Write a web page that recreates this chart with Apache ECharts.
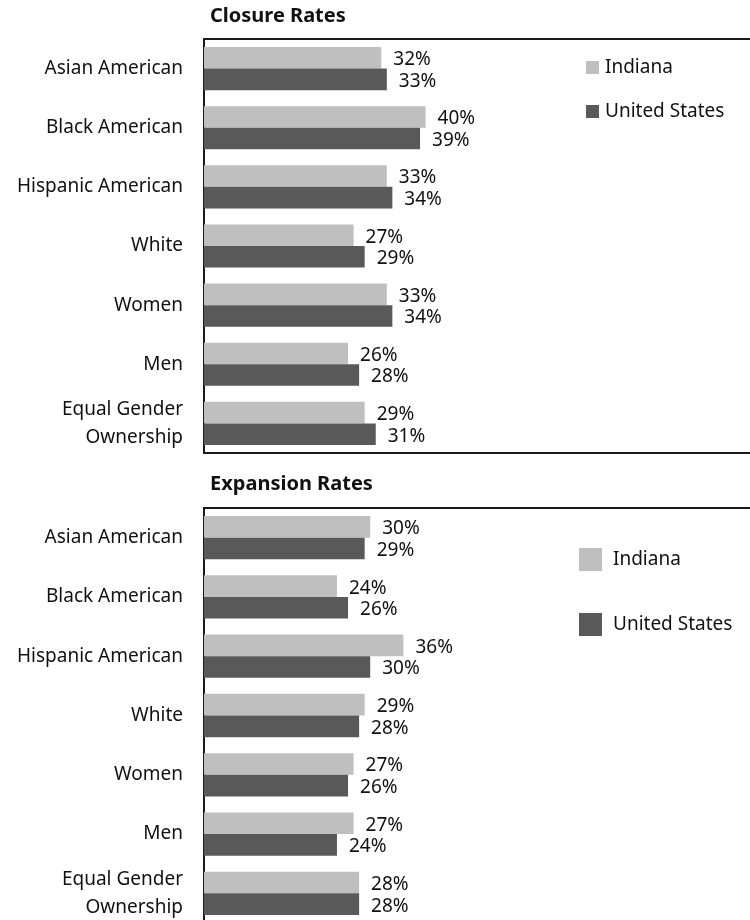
<!DOCTYPE html>
<html>
<head>
<meta charset="utf-8">
<script src="https://cdn.jsdelivr.net/npm/echarts@6/dist/echarts.min.js"></script>
<style>
  html, body { margin: 0; padding: 0; background: #fff; }
  #chart { width: 750px; height: 920px; }
</style>
</head>
<body>
<div id="chart"></div>
<script>
// Business groups shown on each panel (top to bottom)
const categories = [
  'Asian American',
  'Black American',
  'Hispanic American',
  'White',
  'Women',
  'Men',
  'Equal Gender\nOwnership'
];

// Closure rates (%)
const closureIndiana = [32, 40, 33, 27, 33, 26, 29];
const closureUS      = [33, 39, 34, 29, 34, 28, 31];

// Expansion rates (%)
const expansionIndiana = [30, 24, 36, 29, 27, 27, 28];
const expansionUS      = [29, 26, 30, 28, 26, 24, 28];

const seriesNames = ['Indiana', 'United States'];
const panelTitles = ['Closure Rates', 'Expansion Rates'];

const FONT = '"Noto Sans", "Open Sans", sans-serif';
const FS = 19;
const LIGHT = '#bfbfbf';
const DARK = '#595959';

const chart = echarts.init(document.getElementById('chart'), null, { renderer: 'canvas' });

function barSeries(name, data, color, idx) {
  return {
    type: 'bar',
    name: name,
    data: data,
    xAxisIndex: idx,
    yAxisIndex: idx,
    barGap: '0%',
    barCategoryGap: '27%',
    itemStyle: { color: color },
    label: {
      show: true,
      position: 'right',
      distance: 12,
      offset: [0, 2],
      formatter: '{c}%',
      fontFamily: FONT,
      fontSize: FS,
      color: '#111'
    },
    emphasis: { disabled: true },
    animation: false
  };
}

// Panels are open on the right: the plot box runs past the canvas edge
const grids = [
  { left: 204, top: 39, height: 414, width: 554 },
  { left: 204, top: 508, height: 415, width: 554 }
].map(g => Object.assign(g, {
  show: true, borderColor: '#1a1a1a', borderWidth: 2, backgroundColor: 'transparent',
  outerBoundsMode: 'none', containLabel: false
}));

const xAxes = [0, 1].map(i => ({
  gridIndex: i, type: 'value', min: 0, max: 100, show: false
}));

const yAxes = [0, 1].map(i => ({
  gridIndex: i,
  type: 'category',
  data: categories,
  inverse: true,
  axisLine: { show: false },
  axisTick: { show: false },
  splitLine: { show: false },
  axisLabel: {
    margin: 21,
    fontFamily: FONT,
    fontSize: FS,
    color: '#111',
    lineHeight: 28,
    align: 'right'
  }
}));

function legendItem(name, left, top, size, pad) {
  return {
    data: [name], left: left, top: top, orient: 'vertical', icon: 'rect',
    itemWidth: size, itemHeight: size, itemGap: 0, selectedMode: false,
    textStyle: { fontFamily: FONT, fontSize: FS, color: '#111', padding: [0, 0, 0, pad] }
  };
}

const option = {
  backgroundColor: '#fff',
  animation: false,
  title: [
    { text: panelTitles[0], left: 205, top: 1,
      textStyle: { fontFamily: FONT, fontSize: 20, fontWeight: 'bold', color: '#111' } },
    { text: panelTitles[1], left: 205, top: 469,
      textStyle: { fontFamily: FONT, fontSize: 20, fontWeight: 'bold', color: '#111' } }
  ],
  legend: [
    legendItem(seriesNames[0], 581, 53, 13, 1),
    legendItem(seriesNames[1], 581, 97, 13, 1),
    legendItem(seriesNames[0], 574, 543, 23, 6),
    legendItem(seriesNames[1], 574, 608, 23, 6)
  ],
  grid: grids,
  xAxis: xAxes,
  yAxis: yAxes,
  series: [
    barSeries(seriesNames[0], closureIndiana, LIGHT, 0),
    barSeries(seriesNames[1], closureUS, DARK, 0),
    barSeries(seriesNames[0], expansionIndiana, LIGHT, 1),
    barSeries(seriesNames[1], expansionUS, DARK, 1)
  ]
};

chart.setOption(option);
</script>
</body>
</html>
